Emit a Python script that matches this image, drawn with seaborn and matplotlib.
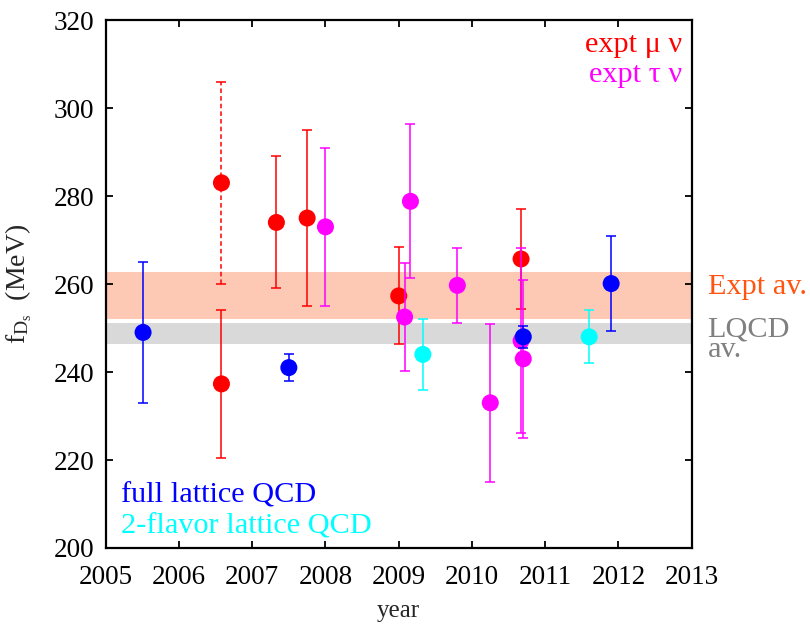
import numpy as np
import pandas as pd
import matplotlib
matplotlib.use('Agg')
import matplotlib.pyplot as plt
import seaborn as sns

# expt mu nu (red)
mu_year = [2006.58, 2006.58, 2007.33, 2007.75, 2009.00, 2010.67]
mu_fds = [283.0, 237.3, 274.0, 275.0, 257.3, 265.7]
mu_err_lo = [23.0, 16.8, 15.0, 20.0, 11.0, 11.4]
mu_err_hi = [23.0, 16.7, 15.0, 20.0, 11.1, 11.4]
mu_dashed = [True, False, False, False, False, False]

# expt tau nu (magenta)
tau_year = [2008.00, 2009.08, 2009.16, 2009.80, 2010.25, 2010.67, 2010.70]
tau_fds = [273.0, 252.5, 278.8, 259.7, 233.0, 247.1, 243.0]
tau_err = [18.0, 12.3, 17.5, 8.6, 18.0, 21.0, 18.0]

# full lattice QCD (blue)
full_year = [2005.51, 2007.50, 2010.70, 2011.90]
full_fds = [249.0, 241.0, 248.0, 260.1]
full_err = [16.0, 3.0, 2.5, 10.8]

# 2-flavor lattice QCD (cyan)
nf2_year = [2009.33, 2011.60]
nf2_fds = [244.0, 248.0]
nf2_err = [8.0, 6.0]

# averages (bands)
expt_band = [252.0, 262.7]
lqcd_band = [246.4, 251.1]

sns.set_theme(style='ticks')
plt.rcParams['font.family'] = ['Liberation Serif', 'DejaVu Serif']
plt.rcParams['mathtext.fontset'] = 'stix'

fig = plt.figure(figsize=(8.1, 6.33), dpi=100)
ax = fig.add_axes([0.1305, 0.1343, 0.7235, 0.834])

ax.axhspan(expt_band[0], expt_band[1], color='#fdc9b4', lw=0, zorder=0)
ax.axhspan(lqcd_band[0], lqcd_band[1], color='#d9d9d9', lw=0, zorder=0)

groups = [
    ('expt mu nu', mu_year, mu_fds, [mu_err_lo, mu_err_hi], '#ff0000', mu_dashed),
    ('expt tau nu', tau_year, tau_fds, [tau_err, tau_err], '#ff00ff', None),
    ('2-flavor', nf2_year, nf2_fds, [nf2_err, nf2_err], '#00ffff', None),
    ('full', full_year, full_fds, [full_err, full_err], '#0000ff', None),
]

z = 2
for name, yr, val, err, col, dashed in groups:
    df = pd.DataFrame({'year': yr, 'fds': val, 'lo': err[0], 'hi': err[1]})
    if dashed is None:
        dashed = [False] * len(df)
    df['dashed'] = dashed
    for d, sub in df.groupby('dashed'):
        eb = ax.errorbar(sub['year'], sub['fds'], yerr=[sub['lo'], sub['hi']],
                         fmt='none', ecolor=col, elinewidth=1.1, capsize=3.5,
                         capthick=1.1, zorder=z)
        if d:
            for lc in eb[2]:
                lc.set_linestyle((0, (3, 2)))
    sns.scatterplot(data=df, x='year', y='fds', color=col, s=150,
                    edgecolor='none', linewidth=0, ax=ax, zorder=z + 1)
    z += 2

ax.set_xlim(2005, 2013)
ax.set_ylim(200, 320)
ax.set_xticks(np.arange(2005, 2014, 1))
ax.set_yticks(np.arange(200, 321, 20))
ax.tick_params(direction='in', length=5, width=1.3, top=True, right=True,
               labelsize=19.5, colors='black', pad=8)
ax.tick_params(axis='x', pad=12)
for sp in ax.spines.values():
    sp.set_linewidth(1.6)
    sp.set_color('black')

ax.set_xlabel('year', fontsize=18)
ax.set_ylabel(r'$\mathregular{f_{D_s}}$  (MeV)', fontsize=20)
ax.xaxis.set_label_coords(0.5, -0.098)
ax.yaxis.set_label_coords(-0.122, 0.5)

fs = 21.8
ax.text(0.983, 0.953, 'expt μ ν', color='#ff0000', fontsize=fs,
        transform=ax.transAxes, ha='right', va='center')
ax.text(0.983, 0.896, 'expt τ ν', color='#ff00ff', fontsize=fs,
        transform=ax.transAxes, ha='right', va='center')
ax.text(0.026, 0.100, 'full lattice QCD', color='#0000ff', fontsize=fs,
        transform=ax.transAxes, ha='left', va='center')
ax.text(0.026, 0.040, '2-flavor lattice QCD', color='#00ffff', fontsize=fs,
        transform=ax.transAxes, ha='left', va='center')
ax.text(1.027, 0.495, 'Expt av.', color='#ff5511', fontsize=fs,
        transform=ax.transAxes, ha='left', va='center')
ax.text(1.027, 0.395, 'LQCD\nav.', color='#808080', fontsize=fs,
        transform=ax.transAxes, ha='left', va='center', linespacing=0.72)

fig.savefig('out.png', dpi=100)
